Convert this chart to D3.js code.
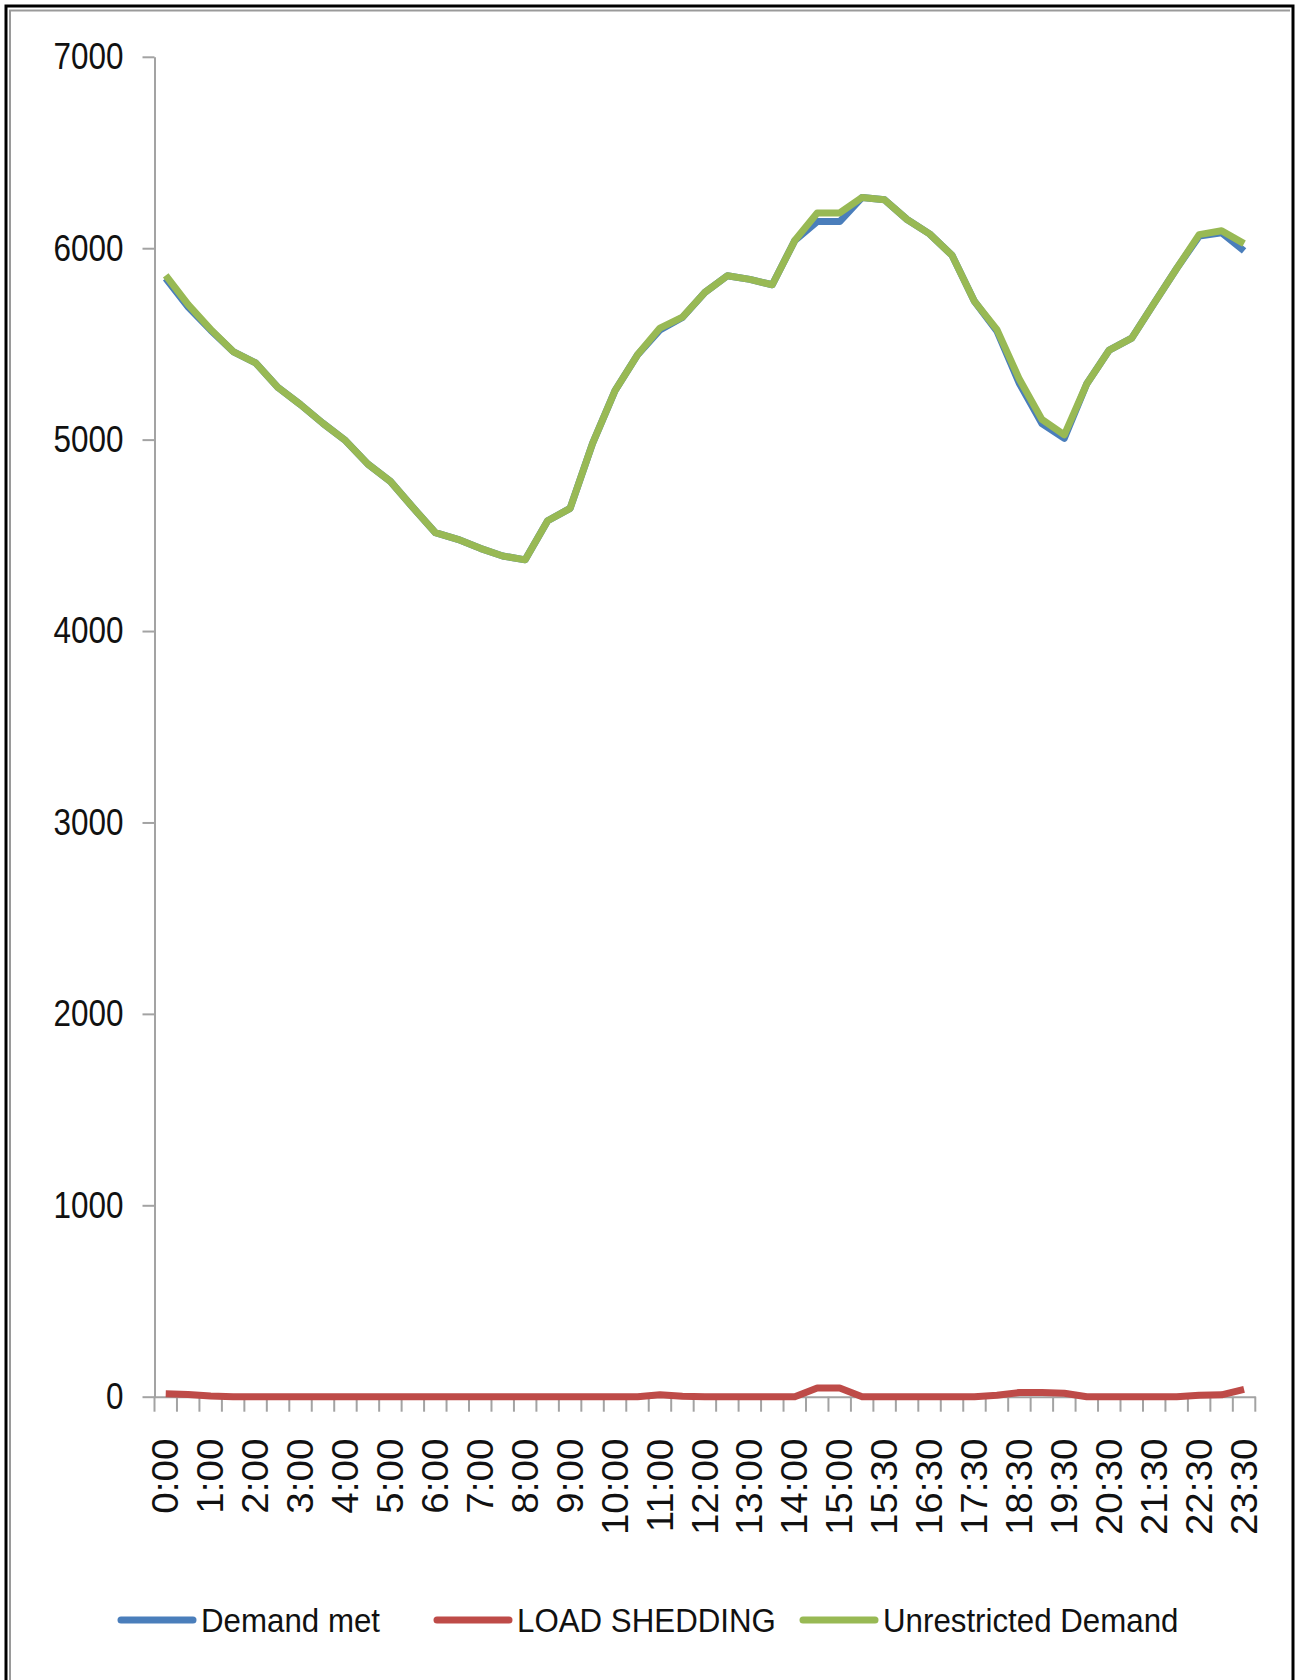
<!DOCTYPE html>
<html><head><meta charset="utf-8">
<script src="https://cdn.jsdelivr.net/npm/d3@7"></script>
<style>
body{margin:0;background:#fff}
svg{display:block}
text{fill:#111}
</style>
</head><body><svg id="c" width="1296" height="1680"></svg>
<script>
const categories = ["0:00","0:30","1:00","1:30","2:00","2:30","3:00","3:30","4:00","4:30","5:00","5:30","6:00","6:30","7:00","7:30","8:00","8:30","9:00","9:30","10:00","10:30","11:00","11:30","12:00","12:30","13:00","13:30","14:00","14:30","15:00","15:15","15:30","16:00","16:30","17:00","17:30","18:00","18:30","19:00","19:30","20:00","20:30","21:00","21:30","22:00","22:30","23:00","23:30"];
const yTickValues = [0,1000,2000,3000,4000,5000,6000,7000];
const demandMet = [5843,5693,5572,5460,5401,5272,5183,5085,4995,4872,4782,4646,4514,4479,4432,4392,4372,4576,4641,4980,5256,5443,5573,5638,5769,5856,5837,5809,6040,6139,6139,6265,6253,6150,6075,5963,5722,5567,5293,5084,5007,5292,5468,5530,5713,5894,6063,6081,5986];
const loadShedding = [15,12,4,0,0,0,0,0,0,0,0,0,0,0,0,0,0,0,0,0,0,0,10,2,0,0,0,0,0,45,45,0,0,0,0,0,0,8,22,22,18,0,0,0,0,0,8,10,38];
const unrestrictedDemand = [5858,5705,5576,5460,5401,5272,5183,5085,4995,4872,4782,4646,4514,4479,4432,4392,4372,4576,4641,4980,5256,5443,5583,5640,5769,5856,5837,5809,6040,6184,6184,6265,6253,6150,6075,5963,5722,5575,5315,5106,5025,5292,5468,5530,5713,5894,6071,6091,6024];
const seriesNames = ["Demand met","LOAD SHEDDING","Unrestricted Demand"];
const seriesColors = ["#4a7ebb","#be4b48","#98b954"];

const svg = d3.select("#c");
const W = 1296, H = 1680;
const L = 154.5, R = 1255.3, T = 56.8, B = 1396.7;
const axisColor = "#a3a3a3";
const font = "'Liberation Sans', Arial, sans-serif";

// frame
svg.append("rect").attr("x",0).attr("y",0).attr("width",W).attr("height",H).attr("fill","#fff");
svg.append("rect").attr("x",6).attr("y",6).attr("width",1287).attr("height",1700)
  .attr("fill","none").attr("stroke","#000").attr("stroke-width",3);
svg.append("path").attr("d","M10,1700V10.5H1290").attr("fill","none").attr("stroke","#9a9a9a").attr("stroke-width",2);

const x = d3.scaleBand().domain(categories).range([L,R]).padding(0);
const y = d3.scaleLinear().domain([0,7000]).range([B,T]);
const cx = d => x(d) + x.bandwidth()/2;

// y axis
const gy = svg.append("g").attr("transform",`translate(${L},0)`)
  .call(d3.axisLeft(y).tickValues(yTickValues).tickFormat(d3.format("d")).tickSize(12).tickSizeOuter(0).tickPadding(19));
gy.select(".domain").attr("stroke",axisColor).attr("stroke-width",2);
gy.selectAll(".tick line").attr("stroke",axisColor).attr("stroke-width",2);
gy.selectAll(".tick text").attr("font-family",font)
  .attr("font-size",37).attr("fill","#111")
  .attr("x",0).attr("transform","translate(-31,0) scale(0.85,1)");

// x axis
const gx = svg.append("g").attr("transform",`translate(0,${B})`)
  .call(d3.axisBottom(x).tickValues(categories.filter((d,i)=>i%2===0)).tickSize(0).tickSizeOuter(0));
gx.select(".domain").attr("stroke",axisColor).attr("stroke-width",2);
gx.selectAll(".tick text")
  .attr("font-family",font).attr("font-size",36).attr("fill","#111")
  .attr("transform","rotate(-90) translate(-42,0) scale(1.07,1)").attr("text-anchor","end")
  .attr("x",0).attr("y",0).attr("dy","0.35em");
// boundary tick marks
const bounds = categories.map(c => x(c)).concat([x(categories[categories.length-1]) + x.bandwidth()]);
svg.append("g").selectAll("line").data(bounds).join("line")
  .attr("x1",d=>d).attr("x2",d=>d).attr("y1",B).attr("y2",B+15)
  .attr("stroke",axisColor).attr("stroke-width",2);

// lines
const series = [demandMet, loadShedding, unrestrictedDemand];
const line = d3.line().x((d,i)=>cx(categories[i])).y(d=>y(d));
series.forEach((s,k)=>{
  svg.append("path").datum(s).attr("d",line).attr("fill","none")
    .attr("stroke",seriesColors[k]).attr("stroke-width",7)
    .attr("stroke-linejoin","round").attr("stroke-linecap","butt");
});

// legend
const legX = [121, 437, 803];
const legY = 1620;
const lg = svg.append("g");
seriesNames.forEach((n,k)=>{
  lg.append("line").attr("x1",legX[k]).attr("x2",legX[k]+72).attr("y1",legY).attr("y2",legY)
    .attr("stroke",seriesColors[k]).attr("stroke-width",7).attr("stroke-linecap","round");
  lg.append("text").attr("x",0).attr("y",0).attr("dy","0.35em")
    .attr("transform",`translate(${legX[k]+80},${legY}) scale(0.92,1)`)
    .attr("font-family",font).attr("font-size",34)
    .attr("fill","#111").text(n);
});
</script>
</body></html>
